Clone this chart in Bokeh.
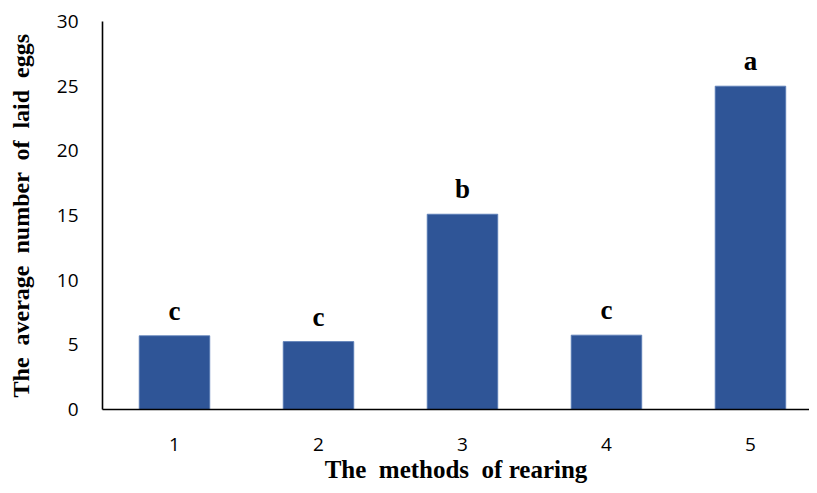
from bokeh.plotting import figure
from bokeh.models import ColumnDataSource, FixedTicker, Range1d
from bokeh.core.properties import value
from bokeh.embed import file_html
from bokeh.resources import INLINE

methods = [1, 2, 3, 4, 5]
avg_eggs = [5.7, 5.25, 15.1, 5.75, 25.0]
letters = ["c", "c", "b", "c", "a"]
y_ticks = [0, 5, 10, 15, 20, 25, 30]

src = ColumnDataSource(dict(x=methods, y=avg_eggs, t=letters))

p = figure(width=809, height=490, output_backend="svg", toolbar_location=None,
           x_range=Range1d(0.5, 5.41), y_range=Range1d(0, 30),
           min_border_left=102, min_border_right=0, min_border_top=21, min_border_bottom=81)
p.outline_line_color = None
p.grid.grid_line_color = None
p.background_fill_color = "white"

p.vbar(x="x", top="y", width=0.49, source=src, fill_color="#2F5597",
       line_color="#5B7DB8", line_width=0.8)
p.text(x="x", y="y", text="t", source=src, text_align="center", text_baseline="bottom",
       y_offset=-10, text_font=value("Liberation Serif"), text_font_style="bold",
       text_font_size="27px", text_color="black")

p.xaxis.ticker = FixedTicker(ticks=methods)
p.yaxis.ticker = FixedTicker(ticks=y_ticks)
for ax in (p.xaxis, p.yaxis):
    ax.axis_line_color = "black"
    ax.axis_line_width = 1.6
    ax.major_tick_out = 0
    ax.major_tick_in = 0
    ax.minor_tick_out = 0
    ax.minor_tick_in = 0
    ax.major_label_text_font = "Open Sans"
    ax.major_label_text_font_size = "19px"
    ax.major_label_text_color = "black"
    ax.axis_label_text_font = "Liberation Serif"
    ax.axis_label_text_font_style = "bold"
    ax.axis_label_text_color = "black"

NB = "\u00a0"
p.yaxis.axis_label = f"The {NB}average {NB}number {NB}of {NB}laid {NB}eggs"
p.yaxis.axis_label_text_font_size = "24px"
p.yaxis.major_label_standoff = 24
p.yaxis.axis_label_standoff = 20
p.xaxis.axis_label = f"The {NB}methods {NB}of rearing"
p.xaxis.axis_label_text_font_size = "25px"
p.xaxis.major_label_standoff = 28
p.xaxis.axis_label_standoff = 2

open("out.html", "w").write(file_html(p, INLINE))
